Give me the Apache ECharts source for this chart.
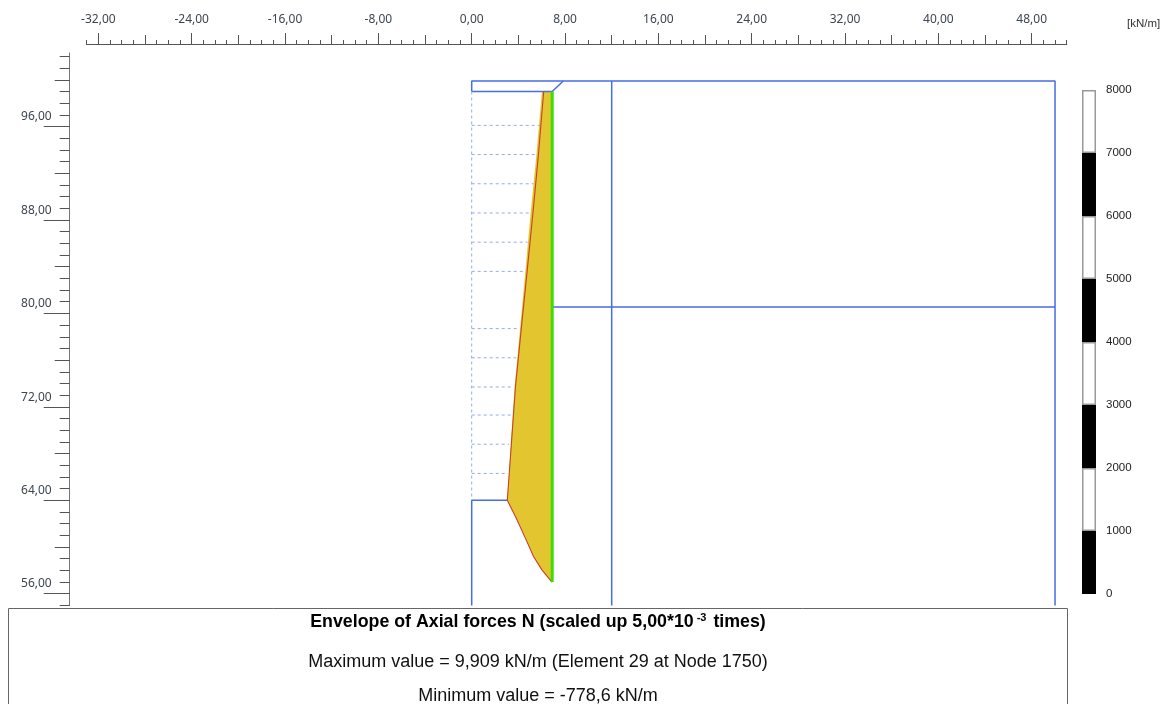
<!DOCTYPE html>
<html>
<head>
<meta charset="utf-8">
<style>html,body{margin:0;padding:0;background:#fff}#c{width:1165px;height:704px}</style>
<script src="https://cdn.jsdelivr.net/npm/echarts@6/dist/echarts.min.js"></script>
</head>
<body>
<div id="c"></div>
<script>
// x ticks
const xAllTicks = [-33,-32,-31,-30,-29,-28,-27,-26,-25,-24,-23,-22,-21,-20,-19,-18,-17,-16,-15,-14,-13,-12,-11,-10,-9,-8,-7,-6,-5,-4,-3,-2,-1,0,1,2,3,4,5,6,7,8,9,10,11,12,13,14,15,16,17,18,19,20,21,22,23,24,25,26,27,28,29,30,31,32,33,34,35,36,37,38,39,40,41,42,43,44,45,46,47,48,49,50,51];
const xMediumTicks = [-28,-20,-12,-4,4,12,20,28,36,44];
const xLabelTicks = [-32,-24,-16,-8,0,8,16,24,32,40,48];
// y ticks
const yAllTicks = [54,55,56,57,58,59,60,61,62,63,64,65,66,67,68,69,70,71,72,73,74,75,76,77,78,79,80,81,82,83,84,85,86,87,88,89,90,91,92,93,94,95,96,97,98,99,100,101];
const yMediumTicks = [59,67,75,83,91,99];
const yLongTicks = [55,63,71,79,87,95];
const yLabelTicks = [56,64,72,80,88,96];
// structure outline, each a polyline [x, y]
const topSlab = [[0,98],[0,98.9],[50,98.9],[50,54]];
const slabUnderside = [[0,98],[6.9,98],[7.85,98.9]];
const innerWall = [[12,98.9],[12,54]];
const level80 = [[6.9,79.55],[50,79.55]];
const excavation = [[3.05,63],[0,63],[0,54]];
// reference (undeformed) dashed lines
const wallDashed = [[0,98],[0,63]];
const dashedLevels = [95.1,92.6,90.1,87.6,85.1,82.6,77.7,75.2,72.7,70.3,67.8,65.3];
const dashedEnds = [5.85,5.6,5.3,5.05,4.8,4.55,4.05,3.8,3.55,3.35,3.2,3.1];
// envelope
const wallX = 6.9;
const envelopeDepth = [98,92.6,87.6,82.6,77.7,72.7,67.8,63,61.47,59.76,58.18,57.04,56];
const envelopeMin = [6.17,5.72,5.25,4.75,4.25,3.75,3.4,3.05,3.82,4.6,5.3,6.02,6.88];
const envelopeOuter = [6.02,5.55,5.05,4.6,4.15,3.68,3.35,3.05,3.82,4.6,5.3,6.02,6.88];
// legend scale
const scaleTicks = [0,1000,2000,3000,4000,5000,6000,7000,8000];
const scaleBandValues = [1000,1000,1000,1000,1000,1000,1000,1000];
const scaleBandColors = ['#000','#fff','#000','#fff','#000','#fff','#000','#fff'];

const fmt = v => v.toFixed(2).replace('.', ',');
const tickColor = '#555';
const labelFont = {color:'#3c4650', fontFamily:'Noto Sans, Liberation Sans, sans-serif', fontSize:12};

function xAxisLayer(ticks, len, labels){
  return {type:'value', gridIndex:0, position:'top', offset:8.7+0.5, min:-33, max:51, scale:true, splitLine:{show:false},
    axisLine:{show:true, onZero:false, lineStyle:{color:tickColor, width:1}},
    axisTick:{show:true, customValues:ticks, length:len, lineStyle:{color:tickColor, width:1}},
    minorTick:{show:false},
    axisLabel: labels ? Object.assign({show:true, customValues:labels, margin:18, formatter:fmt, hideOverlap:false}, labelFont) : {show:false}};
}
function yAxisLayer(ticks, len){
  return {type:'value', gridIndex:0, position:'left', offset:17, min:54, max:101.28, scale:true, splitLine:{show:false},
    axisLine:{show:true, onZero:false, lineStyle:{color:'#777', width:1}},
    axisTick:{show:true, customValues:ticks, length:len, lineStyle:{color:tickColor, width:1}},
    axisLabel:{show:false}};
}
// label-only layer: the tick texts sit about 2px below their ticks in the reference
const yLabelLayer = {type:'value', gridIndex:0, position:'left', offset:17, min:54.17, max:101.45, scale:true, splitLine:{show:false},
  axisLine:{show:false}, axisTick:{show:false},
  axisLabel:Object.assign({show:true, customValues:yLabelTicks, margin:18, formatter:fmt, hideOverlap:false}, labelFont)};
function poly(data, color, width, dash, z){
  return {type:'line', xAxisIndex:0, yAxisIndex:0, data, symbol:'none', silent:true, clip:false, z:z||3,
    lineStyle:{color, width, type:dash||'solid'}, animation:false};
}
const blue = '#456de6', dashBlue = '#94abec';
const series = [];
series.push({type:'custom', xAxisIndex:0, yAxisIndex:0, silent:true, z:2, clip:false,
  data: envelopeDepth.map((d,i)=>[envelopeOuter[i], d]),
  renderItem(params, api){
    if(params.dataIndex !== 0) return null;
    const pts = envelopeDepth.map((d,i)=>api.coord([envelopeOuter[i], d]));
    pts.push(api.coord([wallX, envelopeDepth[envelopeDepth.length-1]]));
    pts.push(api.coord([wallX, envelopeDepth[0]]));
    return {type:'polygon', shape:{points:pts}, style:{fill:'#e3c62f'}};
  }});
series.push(poly(topSlab, blue, 1.5));
series.push(poly(slabUnderside, blue, 1.5));
series.push(poly(innerWall, blue, 1.5));
series.push(poly(level80, blue, 1.5));
series.push(poly(excavation, blue, 1.5));
series.push(poly(wallDashed, dashBlue, 1, [3,3]));
dashedLevels.forEach((y,i)=>series.push(poly([[0,y],[dashedEnds[i],y]], dashBlue, 1, [3,3])));
series.push(poly(envelopeDepth.map((d,i)=>[envelopeMin[i],d]), '#c8402a', 1.1, null, 5));
series.push(poly([[wallX,envelopeDepth[0]],[wallX,envelopeDepth[envelopeDepth.length-1]]], '#38e000', 3, null, 6));
scaleBandValues.forEach((v,i)=>series.push({type:'bar', xAxisIndex:3, yAxisIndex:3, stack:'scale', silent:true, barWidth:'100%',
  data:[v], itemStyle:{color:scaleBandColors[i], borderColor:scaleBandColors[i]==='#000'?'#000':'#999', borderWidth:scaleBandColors[i]==='#000'?0:1.5}}));

const textFont = 'Liberation Sans, Arial, sans-serif';
const option = {
  animation:false,
  backgroundColor:'#fff',
  grid:[
    {left:86.7, top:53.2, width:980, height:552.2, containLabel:false},
    {left:1082, top:90, width:14, height:504, containLabel:false}
  ],
  xAxis:[
    xAxisLayer(xAllTicks,4),
    xAxisLayer(xMediumTicks,9),
    xAxisLayer(xLabelTicks,11,xLabelTicks),
    {type:'category', gridIndex:1, data:['N'], show:false}
  ],
  yAxis:[
    yAxisLayer(yAllTicks,10),
    yAxisLayer(yMediumTicks,15),
    yAxisLayer(yLongTicks,26),
    {type:'value', gridIndex:1, min:0, max:8000, interval:1000, position:'right', splitLine:{show:false},
      axisLine:{show:false}, axisTick:{show:false},
      axisLabel:{show:true, margin:10, customValues:scaleTicks, formatter:v=>String(v), color:'#222', fontFamily:textFont, fontSize:11.5}},
    yLabelLayer
  ],
  title:[
    {text:'{a|Envelope of Axial forces N (scaled up 5,00*10}{s|-3}{a| times)}', left:538, top:612, textAlign:'center', padding:0,
      textStyle:{rich:{a:{fontFamily:textFont, fontWeight:'bold', fontSize:17.8, color:'#000', lineHeight:20},
                       s:{fontFamily:textFont, fontWeight:'bold', fontSize:11, color:'#000', verticalAlign:'top', lineHeight:20, padding:[0,2,0,3]}}}},
    {text:'Maximum value = 9,909 kN/m (Element 29 at Node 1750)', left:538, top:653, textAlign:'center', padding:0,
      textStyle:{fontFamily:textFont, fontWeight:'normal', fontSize:18, color:'#111'}},
    {text:'Minimum value = -778,6 kN/m', left:538, top:687, textAlign:'center', padding:0,
      textStyle:{fontFamily:textFont, fontWeight:'normal', fontSize:18, color:'#111'}},
    {text:'[kN/m]', left:1127, top:18, padding:0,
      textStyle:{fontFamily:textFont, fontWeight:'normal', fontSize:11.5, color:'#333'}}
  ],
  graphic:[{type:'rect', z:-1, shape:{x:8.5,y:608.5,width:1059,height:110}, style:{fill:'#fff',stroke:'#666',lineWidth:1}}],
  series
};
const chart = echarts.init(document.getElementById('c'), null, {renderer:'canvas'});
chart.setOption(option);
</script>
</body>
</html>
